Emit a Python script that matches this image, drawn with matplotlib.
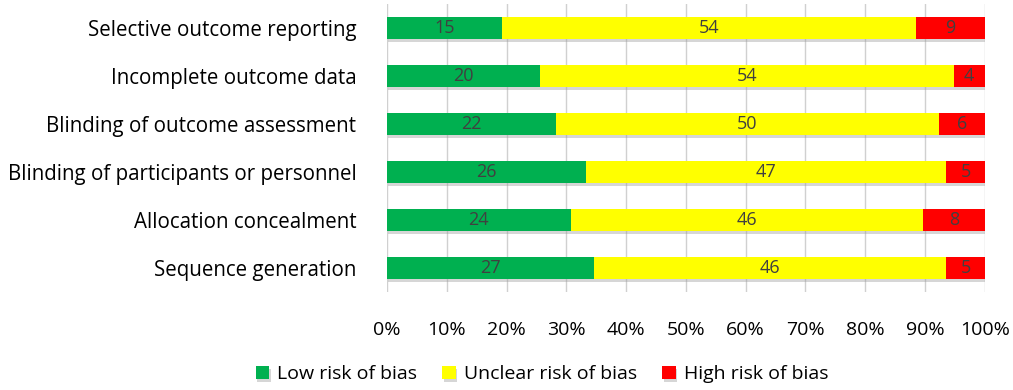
import matplotlib

matplotlib.use("Agg")
import matplotlib.pyplot as plt
import matplotlib.patheffects as pe
import matplotlib.ticker as ticker
import numpy as np

categories = [
    "Sequence generation",
    "Allocation concealment",
    "Blinding of participants or personnel",
    "Blinding of outcome assessment",
    "Incomplete outcome data",
    "Selective outcome reporting",
]
low = [27, 24, 26, 22, 20, 15]
unclear = [46, 46, 47, 50, 54, 54]
high = [5, 8, 5, 6, 4, 9]

series = [
    ("Low risk of bias", low, "#00B050"),
    ("Unclear risk of bias", unclear, "#FFFF00"),
    ("High risk of bias", high, "#FF0000"),
]

plt.rcParams["font.family"] = ["Open Sans", "DejaVu Sans"]

fig = plt.figure(figsize=(10.13, 3.9), dpi=100)
ax = fig.add_axes([0.382, 0.251, 0.59, 0.739])

totals = np.array(low) + np.array(unclear) + np.array(high)
y = np.arange(len(categories))
left = np.zeros(len(categories))
shadow = [pe.SimplePatchShadow(offset=(1, -2), shadow_rgbFace="#999999", alpha=0.4), pe.Normal()]
for name, vals, color in series:
    frac = np.array(vals) / totals * 100
    bars = ax.barh(y, frac, left=left, height=0.46, color=color, label=name, zorder=3)
    for b in bars:
        b.set_path_effects(shadow)
    for yi, l, w, v in zip(y, left, frac, vals):
        ax.text(l + w / 2, yi, str(v), ha="center", va="center",
                fontsize=13, color="#404040", zorder=4)
    left += frac

ax.set_xlim(0, 100)
ax.set_ylim(-0.5, len(categories) - 0.5)
ax.set_yticks(y)
ax.set_yticklabels(categories, fontsize=14.8)
ax.xaxis.set_major_locator(ticker.MultipleLocator(10))
ax.xaxis.set_major_formatter(ticker.FuncFormatter(lambda v, p: f"{v:.0f}%"))
ax.tick_params(axis="x", labelsize=14, length=0, pad=21)
ax.tick_params(axis="y", length=0, pad=22)
ax.grid(axis="x", color="#d0d0d0", linewidth=1, zorder=0)
for s in ax.spines.values():
    s.set_visible(False)

fig.legend(loc="center", bbox_to_anchor=(0.535, 0.04), ncol=3, frameon=False,
           fontsize=14, handlelength=0.7, handleheight=0.7, handletextpad=0.4,
           columnspacing=1.3)

fig.savefig("out.png", dpi=100)
